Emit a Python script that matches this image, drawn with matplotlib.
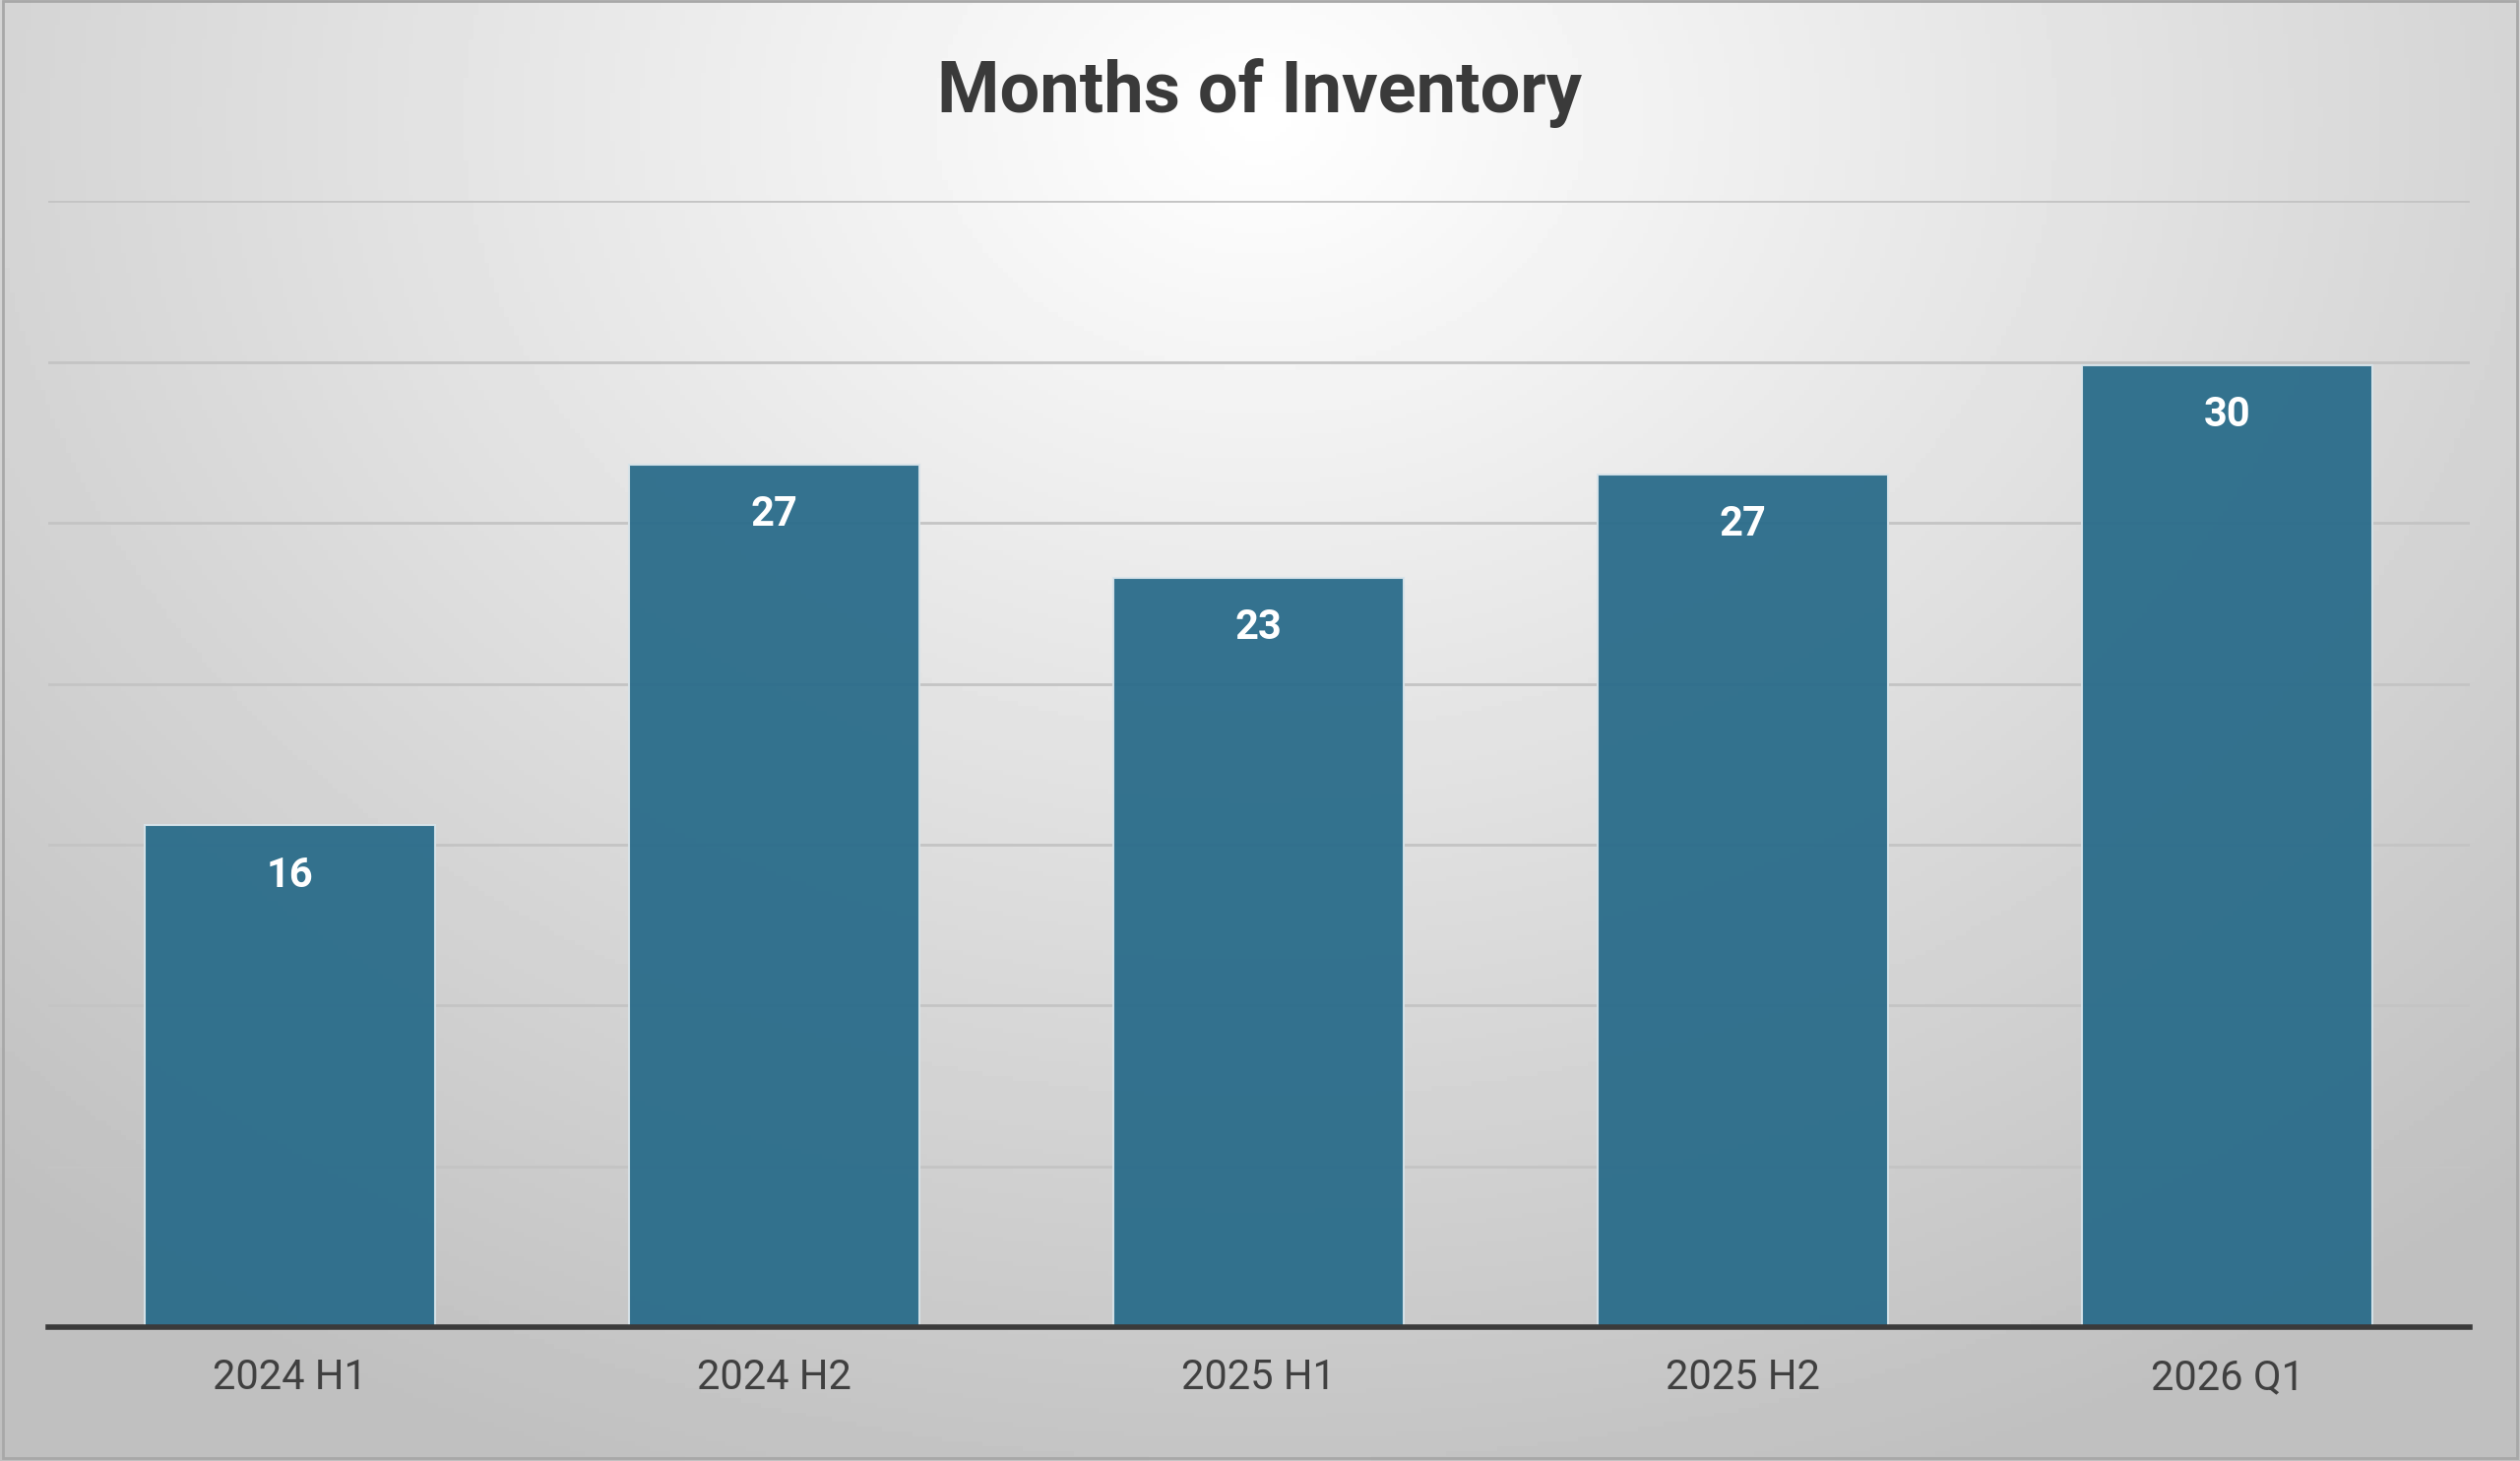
import matplotlib
matplotlib.use("Agg")
import matplotlib.pyplot as plt
import numpy as np

categories = ["2024 H1", "2024 H2", "2025 H1", "2025 H2", "2026 Q1"]
values = [15.6, 26.8, 23.3, 26.5, 29.9]
labels = ["16", "27", "23", "27", "30"]

plt.rcParams['font.family'] = ['Roboto', 'DejaVu Sans']
fig = plt.figure(figsize=(25.6, 14.84), dpi=100)

# radial gradient background
bg = fig.add_axes([0, 0, 1, 1], zorder=-10)
yy, xx = np.mgrid[0:1:300j, 0:1:500j]
d = np.sqrt(((xx - 0.5) * 1.0) ** 2 + ((yy - 0.08) * 0.75) ** 2)
v = 1.0 - 0.25 * np.clip(d / 0.75, 0, 1)
bg.imshow(v, cmap="gray", vmin=0, vmax=1, aspect="auto", extent=[0, 1, 1, 0])
bg.set_xlim(0, 1); bg.set_ylim(1, 0)
bg.add_patch(plt.Rectangle((0.001, 0.001), 0.998, 0.997, fill=False, ec="#a8a8a8", lw=2))
bg.axis("off")

ax = fig.add_axes([0.019, 0.0914, 0.961, 0.771])
ax.patch.set_alpha(0)
x = np.arange(len(categories))
bars = ax.bar(x, values, width=0.6, color="#2a6c8a", alpha=0.95, edgecolor="#d8e4ea", linewidth=1.5, zorder=3)
for xi, v_, lab in zip(x, values, labels):
    ax.text(xi, v_ - 1.55, lab, ha="center", va="center", color="white", fontsize=30, fontweight="bold", zorder=4)
ax.set_ylim(0, 35)
ax.set_xlim(-0.5, 4.5)
ax.set_yticks(np.arange(5, 36, 5))
ax.yaxis.grid(True, color="#c4c4c4", lw=2, zorder=0)
ax.tick_params(axis="y", left=False, labelleft=False)
ax.tick_params(axis="x", length=0, pad=22, labelsize=30, labelcolor="#404040")
ax.set_xticks(x)
ax.set_xticklabels(categories)
for s in ["top", "right", "left"]:
    ax.spines[s].set_visible(False)
ax.spines["bottom"].set_color("#3a3a3a")
ax.spines["bottom"].set_linewidth(4)
ax.spines["bottom"].set_zorder(5)

fig.text(0.5, 0.936, "Months of Inventory", ha="center", va="center", fontsize=52, fontweight="bold", color="#3a3a3a")
fig.savefig("out.png", dpi=100)
